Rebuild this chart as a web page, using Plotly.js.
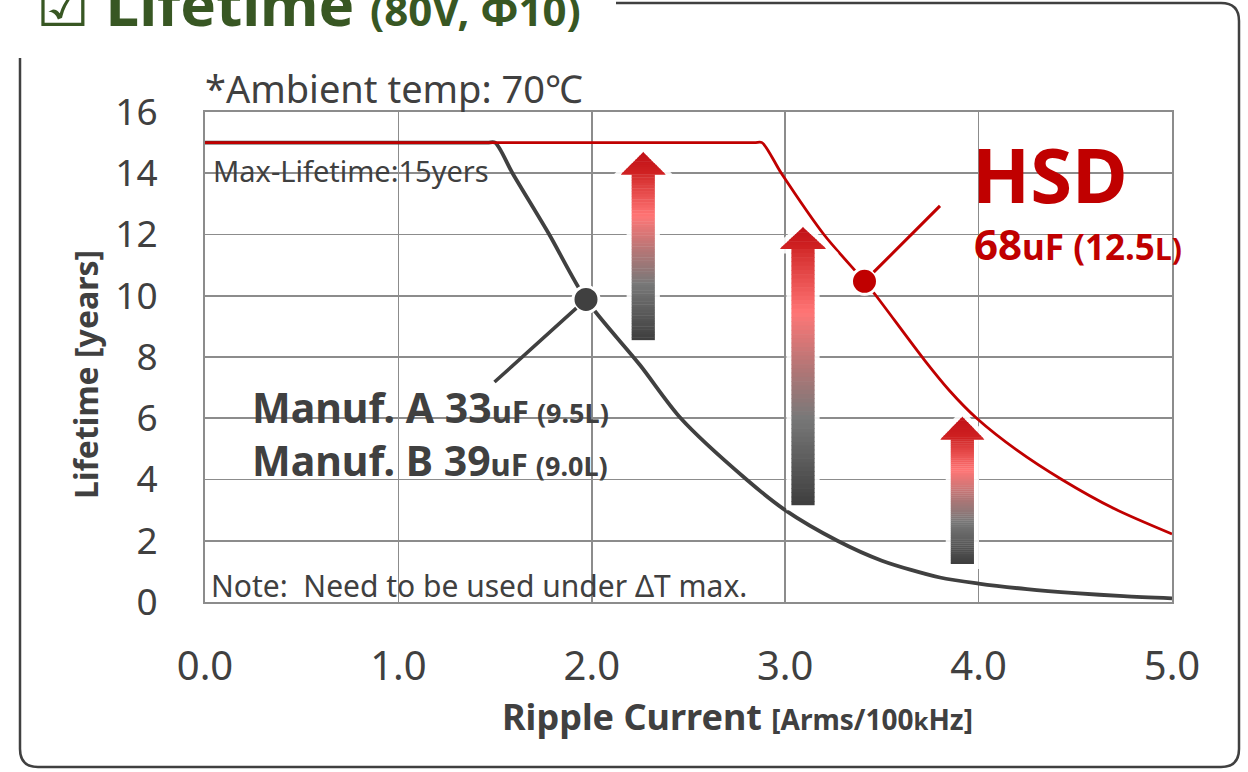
<!DOCTYPE html>
<html>
<head>
<meta charset="utf-8">
<script src="https://cdn.plot.ly/plotly-3.0.1.min.js"></script>
<style>html,body{margin:0;padding:0;background:#fff;}#chart{width:1248px;height:772px;}</style>
</head>
<body>
<div id="chart"></div>
<script>
// ---- data ----
const xTickVals = [0, 1, 2, 3, 4, 5];
const xTickText = ['0.0', '1.0', '2.0', '3.0', '4.0', '5.0'];
const yTickVals = [0, 2, 4, 6, 8, 10, 12, 14, 16];

// Manuf. A / B (33uF / 39uF) lifetime curve
const manufX = [0, 1.0, 1.46, 1.5, 1.59, 1.78, 1.97, 2.25, 2.46, 2.8, 3.0, 3.27, 3.5, 3.8, 4.0, 4.25, 4.5, 4.75, 5.0];
const manufY = [15, 15, 15, 15, 14.0, 12.0, 9.88, 7.73, 6.0, 4.0, 3.0, 2.0, 1.35, 0.8, 0.6, 0.42, 0.29, 0.19, 0.12];

// HSD 68uF lifetime curve
const hsdX = [0, 1.5, 2.84, 2.88, 2.98, 3.2, 3.41, 3.47, 3.72, 3.85, 3.99, 4.2, 4.43, 4.7, 5.0];
const hsdY = [15, 15, 15, 15, 14.0, 12.0, 10.47, 10.0, 7.9, 6.9, 6.0, 4.95, 4.0, 3.05, 2.22];

// highlighted points
const manufDotX = [1.97];
const manufDotY = [9.88];
const hsdDotX = [3.41];
const hsdDotY = [10.47];

// ---- layout helpers (pixel -> paper) ----
const L = 205, R = 1172, T = 112, B = 602;
const PX = px => (px - L) / (R - L);
const PY = py => (B - py) / (B - T);

const DARK = '#404040';
const RED = '#c00000';
const GREEN = '#385723';
const GRID = '#8c8c8c';
const FONT = 'Noto Sans, Open Sans, sans-serif';

const traces = [
  {x: manufX, y: manufY, type: 'scatter', mode: 'lines', line: {color: DARK, width: 3.8, shape: 'spline', smoothing: 0.8}, hoverinfo: 'skip'},
  {x: hsdX, y: hsdY, type: 'scatter', mode: 'lines', line: {color: RED, width: 2.8, shape: 'spline', smoothing: 0.8}, hoverinfo: 'skip'},
  {x: manufDotX, y: manufDotY, type: 'scatter', mode: 'markers',
   marker: {color: DARK, size: 26, line: {color: '#ffffff', width: 3}}, hoverinfo: 'skip'},
  {x: hsdDotX, y: hsdDotY, type: 'scatter', mode: 'markers',
   marker: {color: RED, size: 26, line: {color: '#ffffff', width: 3}}, hoverinfo: 'skip'}
];

// ---- gradient arrows (decoration) ----
function hexToRgb(h){return [parseInt(h.slice(1,3),16),parseInt(h.slice(3,5),16),parseInt(h.slice(5,7),16)];}
function interp(stops, t){
  for (let i = 0; i < stops.length - 1; i++) {
    const [t0, c0] = stops[i], [t1, c1] = stops[i+1];
    if (t >= t0 && t <= t1) {
      const f = (t - t0) / (t1 - t0), a = hexToRgb(c0), b = hexToRgb(c1);
      return 'rgb(' + a.map((v,k)=>Math.round(v + (b[k]-v)*f)).join(',') + ')';
    }
  }
  return stops[stops.length-1][1];
}
const shaftStops = [[0,'#d22a2a'],[0.25,'#ff7676'],[0.45,'#b87676'],[0.66,'#787878'],[1,'#3e3e3e']];
function arrow(cx, tipY, baseY, bottomY, headHalf, shaftHalf){
  const s = [];
  const poly = `M ${cx},${tipY} L ${cx+headHalf},${baseY} L ${cx+shaftHalf},${baseY} L ${cx+shaftHalf},${bottomY} L ${cx-shaftHalf},${bottomY} L ${cx-shaftHalf},${baseY} L ${cx-headHalf},${baseY} Z`;
  s.push({type:'path', xref:'x', yref:'y', path: poly, fillcolor:'#ffffff', line:{color:'rgba(255,255,255,0.9)', width:10}, layer:'above'});
  const N = 60;
  for (let i = 0; i < N; i++) {
    const y1 = baseY - (baseY - bottomY) * i / N;
    const y0 = baseY - (baseY - bottomY) * (i + 1.15) / N;
    s.push({type:'rect', xref:'x', yref:'y', x0: cx-shaftHalf, x1: cx+shaftHalf, y0: Math.max(y0, bottomY), y1: y1,
      fillcolor: interp(shaftStops, (i+0.5)/N), line:{width:0}, layer:'above'});
  }
  const M = 12;
  const hh = tipY - baseY;
  for (let i = 0; i < M; i++) {
    const yTop = tipY - hh * i / M, yBot = tipY - hh * (i+1) / M;
    const wTop = headHalf * i / M, wBot = headHalf * (i+1) / M;
    const c = interp([[0,'#c01016'],[1,'#d02222']], (i+0.5)/M);
    s.push({type:'path', xref:'x', yref:'y',
      path: `M ${cx-wTop},${yTop+0.01} L ${cx+wTop},${yTop+0.01} L ${cx+wBot},${yBot-0.01} L ${cx-wBot},${yBot-0.01} Z`,
      fillcolor: c, line:{width:0}, layer:'above'});
  }
  return s;
}

let shapes = [];
shapes = shapes.concat(arrow(2.266, 14.69, 13.96, 8.55, 0.116, 0.060));
shapes = shapes.concat(arrow(3.092, 12.24, 11.54, 3.16, 0.119, 0.060));
shapes = shapes.concat(arrow(3.916, 6.05, 5.31, 1.24, 0.114, 0.060));

// rounded frame around the panel
const framePath = `M ${PX(616)},${PY(3)} L ${PX(1221)},${PY(3)} Q ${PX(1239)},${PY(3)} ${PX(1239)},${PY(21)} `+
  `L ${PX(1239)},${PY(749)} Q ${PX(1239)},${PY(767)} ${PX(1221)},${PY(767)} `+
  `L ${PX(38)},${PY(767)} Q ${PX(20)},${PY(767)} ${PX(20)},${PY(749)} L ${PX(20)},${PY(58)}`;
shapes.push({type:'path', xref:'paper', yref:'paper', path: framePath, line:{color: DARK, width: 2.5}, layer:'above'});

const annotations = [
  {xref:'paper', yref:'paper', x: PX(34), y: PY(46), xanchor:'left', yanchor:'bottom', showarrow:false,
   text: '☑ <b>Lifetime</b> <b><span style="font-size:42px">(80V, Φ10)</span></b>',
   font:{family: FONT, size: 60, color: GREEN}},
  {xref:'paper', yref:'paper', x: PX(203), y: PY(88), xanchor:'left', yanchor:'middle', showarrow:false,
   text: '*Ambient temp: 70℃', font:{family: FONT, size: 38, color: DARK}},
  {xref:'paper', yref:'paper', x: PX(211), y: PY(170), xanchor:'left', yanchor:'middle', showarrow:false,
   text: 'Max-Lifetime:15yers', font:{family: FONT, size: 29, color: DARK}},
  {xref:'paper', yref:'paper', x: PX(209), y: PY(585), xanchor:'left', yanchor:'middle', showarrow:false,
   text: 'Note:  Need to be used under ΔT max.', font:{family: FONT, size: 30, color: DARK}},
  {xref:'paper', yref:'paper', x: PX(250), y: PY(407), xanchor:'left', yanchor:'middle', showarrow:false,
   text: '<b>Manuf. A 33<span style="font-size:31px">uF </span><span style="font-size:27px">(9.5L)</span></b>',
   font:{family: FONT, size: 41, color: DARK}},
  {xref:'paper', yref:'paper', x: PX(250), y: PY(460), xanchor:'left', yanchor:'middle', showarrow:false,
   text: '<b>Manuf. B 39<span style="font-size:31px">uF </span><span style="font-size:27px">(9.0L)</span></b>',
   font:{family: FONT, size: 41, color: DARK}},
  {xref:'paper', yref:'paper', x: PX(970), y: PY(173), xanchor:'left', yanchor:'middle', showarrow:false,
   text: '<b>HSD</b>', font:{family: FONT, size: 76, color: RED}},
  {xref:'paper', yref:'paper', x: PX(972), y: PY(243), xanchor:'left', yanchor:'middle', showarrow:false,
   text: '<b>68<span style="font-size:35px">uF (12.5</span><span style="font-size:30px">L)</span></b>',
   font:{family: FONT, size: 42, color: RED}},
  // leader lines from the highlighted points
  {x: manufDotX[0], y: manufDotY[0], xref:'x', yref:'y', text:'', showarrow:true, arrowhead:0,
   arrowwidth:3.5, arrowcolor: DARK, ax:-93, ay:84, standoff:13},
  {x: hsdDotX[0], y: hsdDotY[0], xref:'x', yref:'y', text:'', showarrow:true, arrowhead:0,
   arrowwidth:3, arrowcolor: RED, ax:77, ay:-77, standoff:13},
  // axis titles
  {xref:'paper', yref:'paper', x: PX(737), y: PY(716), xanchor:'center', yanchor:'middle', showarrow:false,
   text: '<b>Ripple Current</b> <b><span style="font-size:28px">[Arms/100<span style="font-size:24px">k</span>Hz]</span></b>',
   font:{family: FONT, size: 36, color: DARK}},
  {xref:'paper', yref:'paper', x: PX(85), y: PY(375), xanchor:'center', yanchor:'middle', showarrow:false,
   textangle: -90, text: '<b>Lifetime [years]</b>', font:{family: FONT, size: 32, color: DARK}}
];

const axisCommon = {
  showgrid: true, gridcolor: GRID, gridwidth: 1.6,
  showline: true, linecolor: GRID, linewidth: 2, mirror: true,
  zeroline: false, ticks: '', fixedrange: true
};

const layout = {
  width: 1248, height: 772,
  margin: {l: L, r: 1248 - R, t: T, b: 772 - B, pad: 0},
  paper_bgcolor: '#ffffff', plot_bgcolor: '#ffffff',
  showlegend: false,
  xaxis: Object.assign({}, axisCommon, {range: [0, 5], tickvals: xTickVals, ticktext: xTickText, ticklabelstandoff: 28,
    tickfont: {family: FONT, size: 40, color: DARK}}),
  yaxis: Object.assign({}, axisCommon, {range: [0, 16], tickvals: yTickVals, ticklabelstandoff: 38,
    tickfont: {family: FONT, size: 37, color: DARK}}),
  shapes: shapes,
  annotations: annotations
};

Plotly.newPlot('chart', traces, layout, {displayModeBar: false, staticPlot: true});
</script>
</body>
</html>
